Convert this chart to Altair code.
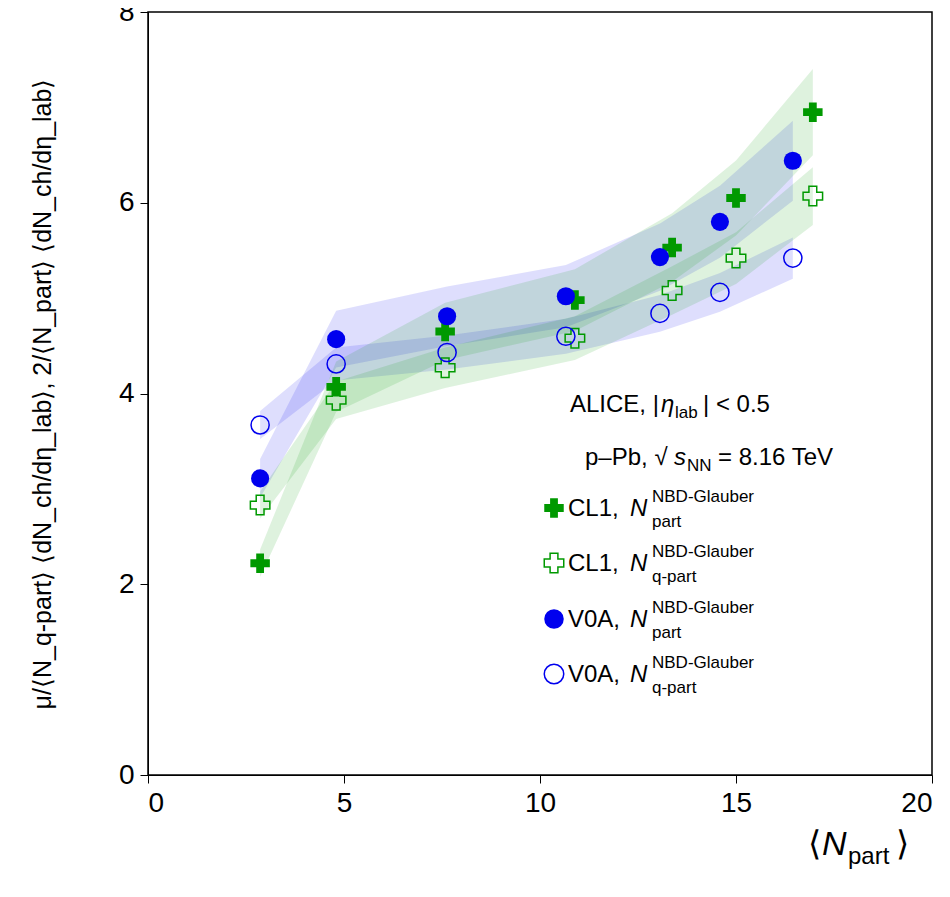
import altair as alt
import pandas as pd

x_cl1 = [2.86, 4.80, 7.58, 10.89, 13.37, 15.0, 16.96]
y_cl1_part = [2.22, 4.07, 4.65, 4.98, 5.53, 6.05, 6.95]
y_cl1_qpart = [2.83, 3.93, 4.27, 4.58, 5.08, 5.42, 6.07]
x_v0a = [2.86, 4.80, 7.63, 10.66, 13.06, 14.59, 16.45]
y_v0a_part = [3.11, 4.57, 4.81, 5.02, 5.43, 5.80, 6.44]
y_v0a_qpart = [3.67, 4.31, 4.43, 4.60, 4.84, 5.06, 5.42]
rel_sys = {"cl1p": 0.065, "cl1q": 0.05, "v0ap": 0.065, "v0aq": 0.04}

GREEN = "#009900"
BLUE = "#0000ee"

series = [
    ("cl1p", x_cl1, y_cl1_part),
    ("cl1q", x_cl1, y_cl1_qpart),
    ("v0ap", x_v0a, y_v0a_part),
    ("v0aq", x_v0a, y_v0a_qpart),
]
rows = []
for key, xs, ys in series:
    for x, y in zip(xs, ys):
        rows.append({"s": key, "x": x, "y": y,
                     "lo": y * (1 - rel_sys[key]), "hi": y * (1 + rel_sys[key])})
df = pd.DataFrame(rows)

F = "Liberation Sans"
xs = alt.Scale(domain=[0, 20], nice=False)
ys = alt.Scale(domain=[0, 8], nice=False)
X = alt.X("x:Q", scale=xs, title=None,
          axis=alt.Axis(values=[0, 5, 10, 15, 20], format="d", labelFontSize=28, labelFont=F,
                        labelColor="black", domainColor="black", tickColor="black",
                        grid=False, labelPadding=6, tickSize=8))
Y = alt.Y("y:Q", scale=ys, title=None,
          axis=alt.Axis(values=[0, 2, 4, 6, 8], format="d", labelFontSize=28, labelFont=F,
                        labelColor="black", domainColor="black", tickColor="black",
                        grid=False, labelPadding=6, tickSize=8))

base = alt.Chart(df)
layers = []
band_col = {"cl1p": GREEN, "cl1q": GREEN, "v0ap": BLUE, "v0aq": BLUE}
for key in ["v0ap", "v0aq", "cl1p", "cl1q"]:
    layers.append(
        base.transform_filter(alt.datum.s == key)
        .mark_area(color=band_col[key], opacity=0.13)
        .encode(x=X, y=alt.Y("lo:Q", scale=ys), y2="hi:Q")
    )

layers.append(base.transform_filter(alt.datum.s == "cl1p").mark_point(
    shape="cross", filled=True, color=GREEN, size=380, opacity=1).encode(x=X, y=Y))
layers.append(base.transform_filter(alt.datum.s == "cl1q").mark_point(
    shape="cross", filled=False, color=GREEN, size=380, strokeWidth=1.5, opacity=1).encode(x=X, y=Y))
layers.append(base.transform_filter(alt.datum.s == "v0ap").mark_point(
    shape="circle", filled=True, color=BLUE, size=330, opacity=1).encode(x=X, y=Y))
layers.append(base.transform_filter(alt.datum.s == "v0aq").mark_point(
    shape="circle", filled=False, color=BLUE, size=330, strokeWidth=1.5, opacity=1).encode(x=X, y=Y))


def txt(t, x, y, size=24, **kw):
    return alt.Chart(pd.DataFrame({"t": [t]})).mark_text(
        font=F, fontSize=size, color="black", align=kw.pop("align", "left"), **kw
    ).encode(text="t:N", x=alt.value(x), y=alt.value(y))


layers += [
    txt("ALICE, |", 422, 393),
    txt("η", 513, 393, fontStyle="italic"),
    txt("lab", 527, 401, size=17),
    txt("| < 0.5", 555, 393),
    txt("p–Pb, √", 437, 446),
    txt("s", 526, 446, fontStyle="italic"),
    txt("NN", 539, 454, size=17),
    txt("= 8.16 TeV", 570, 446),
]
leg_labels = ["CL1, ", "CL1, ", "V0A, ", "V0A, "]
leg_subs = ["part", "q-part", "part", "q-part"]
leg_y = [497, 552, 608, 663]
for lab, sub, py in zip(leg_labels, leg_subs, leg_y):
    layers.append(txt(lab, 420, py))
    layers.append(txt("N", 482, py, fontStyle="italic"))
    layers.append(txt("NBD-Glauber", 504, py - 12, size=17))
    layers.append(txt(sub, 504, py + 13, size=17))
leg_marks = [("cross", True, GREEN), ("cross", False, GREEN), ("circle", True, BLUE), ("circle", False, BLUE)]
for (shape, filled, col), py in zip(leg_marks, leg_y):
    layers.append(alt.Chart(pd.DataFrame({"a": [0]})).mark_point(
        shape=shape, filled=filled, color=col, size=380, strokeWidth=1.5, opacity=1
    ).encode(x=alt.value(406), y=alt.value(py - 1)))

# Axis titles
layers.append(txt("⟨", 660, 833, size=34))
layers.append(txt("N", 674, 833, size=34, fontStyle="italic"))
layers.append(txt("part", 700, 845, size=24))
layers.append(txt("⟩", 748, 833, size=34))
layers.append(txt("μ/⟨N_q-part⟩ ⟨dN_ch/dη_lab⟩,  2/⟨N_part⟩ ⟨dN_ch/dη_lab⟩", -105, 382,
                  size=25, angle=270, align="center"))

chart = alt.layer(*layers).properties(
    width=784, height=763, padding={"left": 140, "top": 4, "right": 10, "bottom": 110},
    autosize=alt.AutoSizeParams(type="none"),
).configure_view(stroke="black", strokeWidth=1.5)

chart.save("out.html", embed_options={"renderer": "svg", "actions": False})
